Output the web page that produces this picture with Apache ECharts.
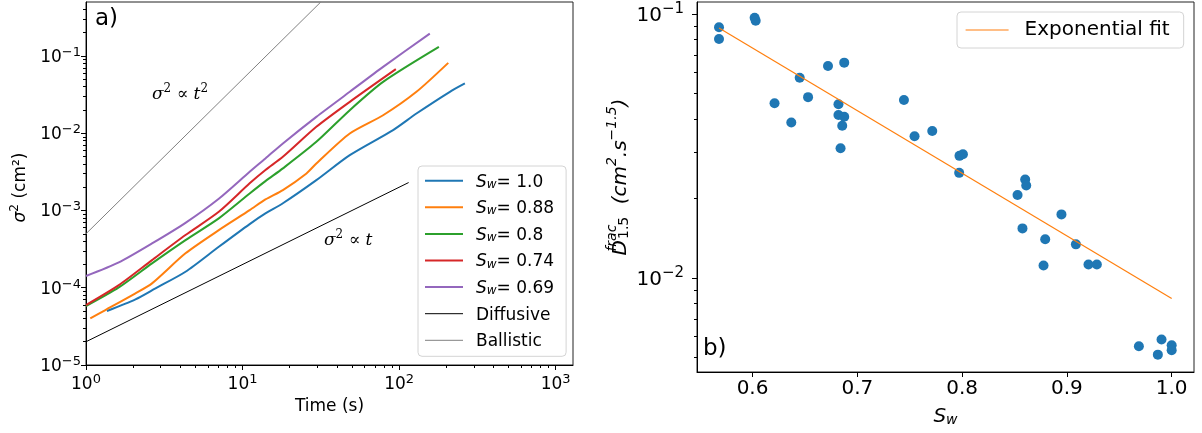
<!DOCTYPE html>
<html><head><meta charset="utf-8">
<script src="https://cdn.jsdelivr.net/npm/echarts@6/dist/echarts.min.js"></script>
<style>html,body{margin:0;padding:0;background:#fff}#c{width:1202px;height:433px}</style>
</head><body><div id="c"></div>
<script>
// ---------- Panel a) data : [time (s), sigma^2 (cm^2)] ----------
const namesA = ['S_w= 1.0', 'S_w= 0.88', 'S_w= 0.8', 'S_w= 0.74', 'S_w= 0.69', 'Diffusive', 'Ballistic'];
const sw100 = [[1.36,5.0e-5],[2.07,7.08e-5],[2.78,9.82e-5],[4.32,1.61e-4],[7.05,3.39e-4],[11.1,6.67e-4],[14.0,9.16e-4],[18.1,1.24e-3],[29.6,2.47e-3],[48.4,5.21e-3],[91.5,0.011],[129,0.018],[211,0.0344],[263,0.0441]];
const sw088 = [[1.065,4.02e-5],[1.33,5.15e-5],[2.07,8.47e-5],[2.64,1.14e-4],[4.32,2.79e-4],[7.05,5.57e-4],[11.1,1.01e-3],[14.0,1.39e-3],[18.1,1.84e-3],[25.6,3.02e-3],[29.6,4.06e-3],[48.4,9.93e-3],[79,0.0171],[129,0.0344],[206,0.0815]];
const sw080 = [[1,5.8e-5],[1.62,1.01e-4],[2.64,2.07e-4],[4.32,4.14e-4],[7.05,7.91e-4],[11.1,1.66e-3],[14.0,2.40e-3],[18.1,3.51e-3],[29.6,7.74e-3],[48.4,0.0199],[79,0.0462],[179.5,0.131]];
const sw074 = [[1,5.97e-5],[1.62,1.08e-4],[2.64,2.28e-4],[4.32,4.81e-4],[7.05,9.62e-4],[11.1,2.25e-3],[14.0,3.35e-3],[18.1,4.95e-3],[29.6,0.0121],[48.4,0.0255],[95.3,0.0675]];
const sw069 = [[1,1.42e-4],[1.62,2.13e-4],[2.64,3.75e-4],[4.32,6.93e-4],[7.05,1.42e-3],[11.1,3.17e-3],[14.0,4.72e-3],[18.1,7.38e-3],[29.6,0.0163],[48.4,0.0344],[79,0.0723],[157,0.195]];
const diffusive = [[1,2.0e-5],[115,2.3e-3]];
const ballistic = [[1,5.0e-4],[31.6,0.5]];
const xTicksA = [1, 10, 100, 1000];
const xMinorA = [2,3,4,5,6,7,8,9,20,30,40,50,60,70,80,90,200,300,400,500,600,700,800,900];
const yTicksA = [1e-5, 1e-4, 1e-3, 1e-2, 1e-1];
const yMinorA = [2e-5,3e-5,4e-5,5e-5,6e-5,7e-5,8e-5,9e-5,2e-4,3e-4,4e-4,5e-4,6e-4,7e-4,8e-4,9e-4,2e-3,3e-3,4e-3,5e-3,6e-3,7e-3,8e-3,9e-3,0.02,0.03,0.04,0.05,0.06,0.07,0.08,0.09,0.2,0.3,0.4];

// ---------- Panel b) data ----------
const swB = [0.568,0.568,0.602,0.603,0.672,0.6875,0.645,0.621,0.653,0.637,0.682,0.682,0.6875,0.6856,0.684,0.7445,0.7546,0.7715,0.7975,0.8008,0.7972,0.8602,0.8612,0.8529,0.8948,0.8576,0.8793,0.9086,0.8777,0.9206,0.9286,0.9687,0.9903,0.9868,1.0,1.0];
const dB = [0.0890,0.0804,0.0968,0.0943,0.0635,0.0654,0.0573,0.0459,0.0484,0.0388,0.0455,0.0414,0.0408,0.0377,0.0310,0.0472,0.0344,0.0360,0.0290,0.0294,0.0250,0.0236,0.0224,0.0206,0.0174,0.0154,0.0140,0.0134,0.01114,0.01124,0.01124,0.00551,0.00584,0.00512,0.00556,0.00532];
const fitB = [[0.568,0.0885],[1.0,0.00835]];
const xTicksB = [0.6, 0.7, 0.8, 0.9, 1.0];
const yTicksB = [0.01, 0.1];
const yMinorB = [0.005,0.006,0.007,0.008,0.009,0.02,0.03,0.04,0.05,0.06,0.07,0.08,0.09];

const colorsA = ['#1f77b4','#ff7f0e','#2ca02c','#d62728','#9467bd','#000000','#808080'];
const widthsA = [2, 2, 2, 2, 2, 1, 1];
const F = 'DejaVu Sans';

function powLabel(v) {
  const e = Math.round(Math.log10(v));
  return '{b|10}{s|' + (e < 0 ? '\u2212' + (-e) : String(e)) + '}';
}
const richA = {
  b: {fontSize: 17, fontFamily: F, color: '#000', lineHeight: 20, verticalAlign: 'bottom'},
  s: {fontSize: 13, fontFamily: F, color: '#000', lineHeight: 9, verticalAlign: 'top'}
};
const richB = {
  b: {fontSize: 20, fontFamily: F, color: '#000', lineHeight: 24, verticalAlign: 'bottom'},
  s: {fontSize: 15, fontFamily: F, color: '#000', lineHeight: 11, verticalAlign: 'top'}
};

function minorAxis(gridIndex, type, min, max, vals, pos) {
  const o = {type: type, gridIndex: gridIndex, min: min, max: max, position: pos,
    axisLine: {show: false}, axisLabel: {show: false}, splitLine: {show: false},
    axisTick: {show: true, length: 3, customValues: vals, lineStyle: {color: '#000', width: 1}}};
  if (type === 'log') o.logBase = 10;
  return o;
}

const chart = echarts.init(document.getElementById('c'), null, {renderer: 'canvas'});

const dataA = [sw100, sw088, sw080, sw074, sw069, diffusive, ballistic];
const seriesA = dataA.map((d, i) => ({
  name: namesA[i], type: 'line', xAxisIndex: 0, yAxisIndex: 0, data: d,
  symbol: 'none', smooth: i < 5 ? 0.25 : false, clip: true,
  lineStyle: {color: colorsA[i], width: widthsA[i]},
  itemStyle: {color: colorsA[i]}, z: 3
}));

function legendFmt(name) {
  if (name.indexOf('S_w') === 0) return '{i|S}{sub|w}{n|' + name.slice(3) + '}';
  return '{p|' + name + '}';
}
const hiddenMark = {color: 'rgba(0,0,0,0)', borderWidth: 0, borderColor: 'rgba(0,0,0,0)'};

const option = {
  animation: false,
  backgroundColor: '#fff',
  textStyle: {fontFamily: F},
  grid: [
    {left: 86, top: 2, width: 487, height: 363, show: true, borderColor: '#222', borderWidth: 1, backgroundColor: 'transparent'},
    {left: 697, top: 2, width: 497, height: 370, show: true, borderColor: '#222', borderWidth: 1, backgroundColor: 'transparent'}
  ],
  xAxis: [
    {type: 'log', logBase: 10, gridIndex: 0, min: 1, max: 1290, position: 'bottom',
     axisLine: {show: true, lineStyle: {color: '#000', width: 1}},
     axisTick: {show: true, length: 5, customValues: xTicksA, lineStyle: {color: '#000'}},
     axisLabel: {customValues: xTicksA, formatter: powLabel, margin: 8, rich: richA},
     splitLine: {show: false},
     name: 'Time (s)', nameLocation: 'middle', nameGap: 31,
     nameTextStyle: {fontSize: 17, fontFamily: F, color: '#000'}},
    minorAxis(0, 'log', 1, 1290, xMinorA, 'bottom'),
    {type: 'value', gridIndex: 1, min: 0.547, max: 1.0213, position: 'bottom',
     axisLine: {show: true, lineStyle: {color: '#000', width: 1}},
     axisTick: {show: true, length: 5, customValues: xTicksB, lineStyle: {color: '#000'}},
     axisLabel: {customValues: xTicksB, formatter: v => v.toFixed(1), margin: 7, fontSize: 20, fontFamily: F, color: '#000'},
     splitLine: {show: false},
     name: '{i|S}{sub|w}', nameLocation: 'middle', nameGap: 31,
     nameTextStyle: {rich: {
       i: {fontSize: 20, fontFamily: F, fontStyle: 'italic', color: '#000', lineHeight: 24, verticalAlign: 'bottom'},
       sub: {fontSize: 14, fontFamily: F, fontStyle: 'italic', color: '#000', lineHeight: 9, verticalAlign: 'bottom'}}}}
  ],
  yAxis: [
    {type: 'log', logBase: 10, gridIndex: 0, min: 1e-5, max: 0.5, position: 'left',
     axisLine: {show: true, lineStyle: {color: '#000', width: 1}},
     axisTick: {show: true, length: 5, customValues: yTicksA, lineStyle: {color: '#000'}},
     axisLabel: {customValues: yTicksA, formatter: powLabel, margin: 5, rich: richA},
     splitLine: {show: false},
     name: '{i|σ}{sup|2}{n| (cm²)}', nameLocation: 'middle', nameRotate: 90, nameGap: 57,
     nameTextStyle: {padding: [0, 8, 0, 0], rich: {
       i: {fontSize: 17, fontFamily: F, fontStyle: 'italic', color: '#000', lineHeight: 20, verticalAlign: 'bottom'},
       sup: {fontSize: 12, fontFamily: F, color: '#000', lineHeight: 9, verticalAlign: 'top'},
       n: {fontSize: 17, fontFamily: F, color: '#000', lineHeight: 20, verticalAlign: 'bottom'}}}},
    minorAxis(0, 'log', 1e-5, 0.5, yMinorA, 'left'),
    {type: 'log', logBase: 10, gridIndex: 1, min: 0.0044, max: 0.111, position: 'left',
     axisLine: {show: true, lineStyle: {color: '#000', width: 1}},
     axisTick: {show: true, length: 5, customValues: yTicksB, lineStyle: {color: '#000'}},
     axisLabel: {customValues: yTicksB, formatter: powLabel, margin: 13, rich: richB},
     splitLine: {show: false},
     name: '{i|D}{f|\u2009frac}{sub|1.5}{i| (cm}{sup|2}{i|.s}{sup|\u22121.5}{i|)}',
     nameLocation: 'middle', nameRotate: 90, nameGap: 66,
     nameTextStyle: {padding: [0, 0, 0, 20], rich: {
       i: {fontSize: 20, fontFamily: F, fontStyle: 'italic', color: '#000', lineHeight: 26, verticalAlign: 'bottom'},
       f: {fontSize: 14, fontFamily: F, fontStyle: 'italic', color: '#000', lineHeight: 10, verticalAlign: 'top', width: 1},
       sup: {fontSize: 14, fontFamily: F, fontStyle: 'italic', color: '#000', lineHeight: 10, verticalAlign: 'top'},
       sub: {fontSize: 14, fontFamily: F, color: '#000', lineHeight: 12, verticalAlign: 'bottom', padding: [0, 6, 0, 0]}}}},
    minorAxis(1, 'log', 0.0044, 0.111, yMinorB, 'left')
  ],
  legend: [
    {show: true, orient: 'vertical', left: 418, top: 166,
     data: namesA.map((n, i) => ({name: n, lineStyle: {width: widthsA[i], color: colorsA[i]}})),
     itemWidth: 38, itemHeight: 14, itemGap: 6.6, padding: [4.7, 12, 6, 6],
     itemStyle: hiddenMark,
     backgroundColor: 'rgba(255,255,255,0.85)', borderColor: '#d4d4d4', borderWidth: 1, borderRadius: 4,
     formatter: legendFmt,
     textStyle: {fontSize: 17, fontFamily: F, color: '#000', lineHeight: 20, rich: {
       i: {fontSize: 17, fontFamily: F, fontStyle: 'italic', color: '#000', lineHeight: 20, verticalAlign: 'bottom', padding: [0,0,0,8]},
       sub: {fontSize: 12, fontFamily: F, fontStyle: 'italic', color: '#000', lineHeight: 8, verticalAlign: 'bottom'},
       n: {fontSize: 17, fontFamily: F, color: '#000', lineHeight: 20, verticalAlign: 'bottom'},
       p: {fontSize: 17, fontFamily: F, color: '#000', lineHeight: 20, verticalAlign: 'bottom', padding: [0,0,0,8]}}}},
    {show: true, orient: 'vertical', left: 957, top: 12,
     data: [{name: 'Exponential fit', lineStyle: {width: 1.2, color: '#ff7f0e'}}],
     itemWidth: 43, itemHeight: 14, padding: [6, 14, 6, 8],
     itemStyle: hiddenMark,
     backgroundColor: 'rgba(255,255,255,0.85)', borderColor: '#d4d4d4', borderWidth: 1, borderRadius: 4,
     textStyle: {fontSize: 20, fontFamily: F, color: '#000', lineHeight: 24, padding: [0,0,0,11]}}
  ],
  graphic: [
    {type: 'text', left: 95, top: 8, z: 100, style: {text: 'a)', fontSize: 23, fontFamily: F, fill: '#000'}},
    {type: 'text', left: 703, top: 338, z: 100, style: {text: 'b)', fontSize: 23, fontFamily: F, fill: '#000'}},
    {type: 'text', left: 152, top: 83, z: 100, style: {
      text: '{i|σ}{s|2}{n| ∝ }{i|t}{s|2}',
      rich: {i: {fontSize: 17, fontFamily: 'DejaVu Serif', fontStyle: 'italic', fill: '#000', lineHeight: 20, verticalAlign: 'bottom'},
             s: {fontSize: 12, fontFamily: 'DejaVu Serif', fill: '#000', lineHeight: 9, verticalAlign: 'top'},
             n: {fontSize: 17, fontFamily: 'DejaVu Serif', fill: '#000', lineHeight: 20, verticalAlign: 'bottom'}}}},
    {type: 'text', left: 324, top: 229, z: 100, style: {
      text: '{i|σ}{s|2}{n| ∝ }{i|t}',
      rich: {i: {fontSize: 17, fontFamily: 'DejaVu Serif', fontStyle: 'italic', fill: '#000', lineHeight: 20, verticalAlign: 'bottom'},
             s: {fontSize: 12, fontFamily: 'DejaVu Serif', fill: '#000', lineHeight: 9, verticalAlign: 'top'},
             n: {fontSize: 17, fontFamily: 'DejaVu Serif', fill: '#000', lineHeight: 20, verticalAlign: 'bottom'}}}}
  ],
  series: seriesA.concat([
    {name: 'data', type: 'scatter', xAxisIndex: 2, yAxisIndex: 2,
     data: swB.map((x, i) => [x, dB[i]]), symbolSize: 10,
     itemStyle: {color: '#1f77b4', opacity: 1}, z: 3},
    {name: 'Exponential fit', type: 'line', xAxisIndex: 2, yAxisIndex: 2, data: fitB,
     symbol: 'none', lineStyle: {color: '#ff7f0e', width: 1.2}, itemStyle: {color: '#ff7f0e'}, z: 4}
  ])
};
chart.setOption(option);
</script>
</body></html>
